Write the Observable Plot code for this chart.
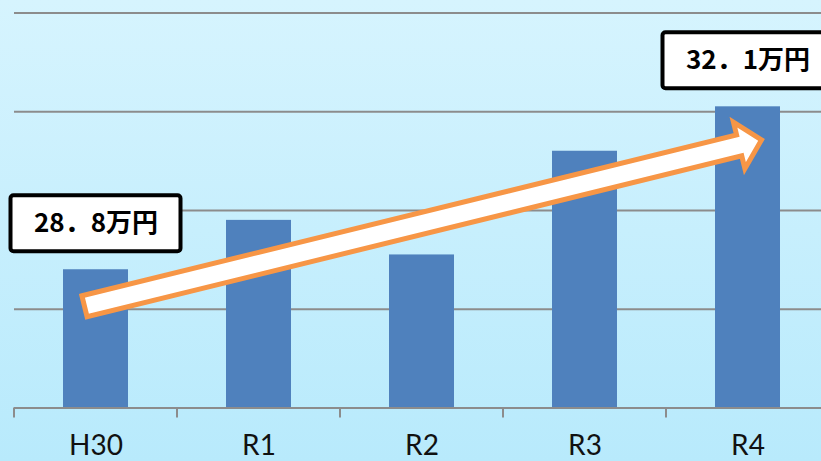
<!DOCTYPE html>
<html>
<head>
<meta charset="utf-8">
<script src="https://cdn.jsdelivr.net/npm/d3@7"></script>
<script src="https://cdn.jsdelivr.net/npm/@observablehq/plot@0.6"></script>
<style>
  html, body { margin: 0; padding: 0; }
  body {
    width: 821px; height: 461px; overflow: hidden;
    background: linear-gradient(to bottom, #d6f4fe 0%, #b8eafc 100%);
  }
  svg { display: block; }
</style>
</head>
<body>
<div id="chart"></div>
<script>
// ---- data ----
const categories = ["H30", "R1", "R2", "R3", "R4"];
const values = [28.8, 29.8, 29.1, 31.2, 32.1];
const yTicks = [26, 28, 30, 32, 34];
const calloutCategories = ["H30", "R4"];
const calloutLabels = ["28．8万円", "32．1万円"];
const arrowCategories = ["H30", "R4"];
const arrowValues = [28.05, 31.42];

const bars = categories.map((c, i) => ({ c, v: values[i] }));
const callouts = calloutCategories.map((c, i) => ({ c, v: values[categories.indexOf(c)], label: calloutLabels[i] }));

const BOX_W = 170, BOX_H = 56, BOX_LIFT = 46;

// tick marks at band boundaries
function ticksMark(index, scales) {
  const x = scales.x, y = scales.y;
  const bw = x.bandwidth(), step = x.step();
  const g = d3.create("svg:g");
  const y0 = y(26);
  const xs = categories.map(c => x(c) - (step - bw) / 2);
  xs.push(xs[xs.length - 1] + step);
  for (const px of xs) {
    g.append("line").attr("x1", px).attr("x2", px).attr("y1", y0).attr("y2", y0 + 10)
      .attr("stroke", "#8c8c8c").attr("stroke-width", 2);
  }
  return g.node();
}

// block arrow from first to second arrow point
function arrowMark(index, scales) {
  const x = scales.x, y = scales.y;
  const bw = x.bandwidth();
  const p0 = [x(arrowCategories[0]) + bw / 2 - 11, y(arrowValues[0])];
  const p1 = [x(arrowCategories[1]) + bw / 2 + 14, y(arrowValues[1])];
  const dx = p1[0] - p0[0], dy = p1[1] - p0[1];
  const L = Math.hypot(dx, dy);
  const u = [dx / L, dy / L], n = [-u[1], u[0]];
  const hw = 10.8, hh = 24, hl = 23;
  const at = (t, s) => [p0[0] + u[0] * t + n[0] * s, p0[1] + u[1] * t + n[1] * s];
  const pts = [at(0, -hw), at(L - hl, -hw), at(L - hl, -hh), at(L, 0), at(L - hl, hh), at(L - hl, hw), at(0, hw)];
  const g = d3.create("svg:g");
  g.append("path").attr("d", "M" + pts.map(p => p.join(",")).join("L") + "Z")
    .attr("fill", "#ffffff").attr("stroke", "#F79646").attr("stroke-width", 5)
    .attr("stroke-linejoin", "miter");
  return g.node();
}

// boxes behind callout labels
function boxesMark(index, scales) {
  const x = scales.x, y = scales.y;
  const bw = x.bandwidth();
  const g = d3.create("svg:g");
  for (const d of callouts) {
    const cx = x(d.c) + bw / 2, cy = y(d.v) - BOX_LIFT;
    g.append("rect").attr("x", cx - BOX_W / 2).attr("y", cy - BOX_H / 2)
      .attr("width", BOX_W).attr("height", BOX_H).attr("rx", 3)
      .attr("fill", "#ffffff").attr("stroke", "#000000").attr("stroke-width", 4);
  }
  return g.node();
}

const plot = Plot.plot({
  width: 821,
  height: 461,
  marginLeft: 14,
  marginRight: 0,
  marginTop: 12.5,
  marginBottom: 53.5,
  style: { background: "transparent", overflow: "visible" },
  x: { domain: categories, range: [14, 829], paddingInner: 0.6, paddingOuter: 0.3, axis: null },
  y: { domain: [26, 34], axis: null },
  marks: [
    Plot.ruleY(yTicks, { stroke: "#8c8c8c", strokeWidth: 2 }),
    Plot.barY(bars, { x: "c", y1: 26, y2: "v", fill: "#4F81BD" }),
    Plot.ruleY([26], { stroke: "#8c8c8c", strokeWidth: 2 }),
    ticksMark,
    arrowMark,
    boxesMark,
    Plot.text(callouts, {
      x: "c", y: "v", dy: -BOX_LIFT, text: "label",
      fontSize: 26, fontWeight: "bold", fill: "#000",
      fontFamily: "'Noto Sans CJK JP', sans-serif"
    }),
    Plot.text(categories, {
      x: d => d, y: () => 26, dy: 38, text: d => d,
      fontSize: 28, fill: "#111",
      fontFamily: "'Liberation Sans Narrow', Lato, sans-serif"
    })
  ]
});
document.getElementById("chart").append(plot);
</script>
</body>
</html>
